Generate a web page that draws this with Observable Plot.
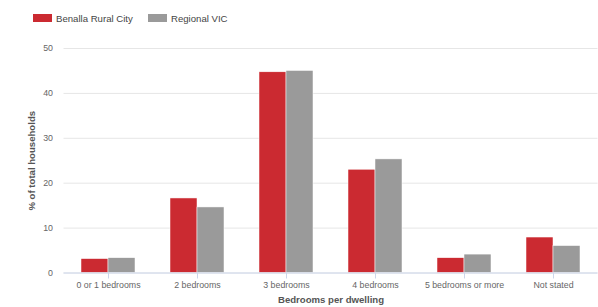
<!DOCTYPE html>
<html><head><meta charset="utf-8">
<script src="https://cdn.jsdelivr.net/npm/d3@7"></script>
<script src="https://cdn.jsdelivr.net/npm/@observablehq/plot@0.6"></script>
<style>
body{margin:0;background:#fff;font-family:"Liberation Sans",Arial,sans-serif;}
#legend{height:30px;position:relative;font-size:9.6px;color:#444;}
.item{position:absolute;top:13px;display:flex;align-items:center;height:10px;}
.sw{width:19px;height:8px;margin-right:4px;}
</style></head>
<body>
<div id="legend"></div>
<div id="chart"></div>
<script>
const categories = ["0 or 1 bedrooms","2 bedrooms","3 bedrooms","4 bedrooms","5 bedrooms or more","Not stated"];
const seriesNames = ["Benalla Rural City","Regional VIC"];
const benalla = [3.1, 16.6, 44.7, 23.0, 3.3, 7.9];
const regional = [3.3, 14.6, 45.0, 25.3, 4.1, 6.0];
const yTicks = [0,10,20,30,40,50];
const colors = ["#cb2a31","#9a9a9a"];

const data = [];
categories.forEach((c,i)=>{
  data.push({category:c, series:seriesNames[0], value:benalla[i]});
  data.push({category:c, series:seriesNames[1], value:regional[i]});
});

const lg = document.getElementById("legend");
const lx = [33, 148];
seriesNames.forEach((s,i)=>{
  const d = document.createElement("div");
  d.className="item"; d.style.left = lx[i]+"px";
  d.innerHTML = `<div class="sw" style="background:${colors[i]}"></div><span>${s}</span>`;
  lg.appendChild(d);
});

const W = 598, H = 277;
const half = 27;
const chart = Plot.plot({
  width: W, height: H,
  marginTop: 18, marginBottom: 34.5, marginLeft: 63.5, marginRight: 0.5,
  style: {fontFamily: '"Liberation Sans", Arial, sans-serif', fontSize: "8.8px", color: "#666", background: "#fff"},
  x: {type: "band", domain: categories, paddingInner: 0.393, paddingOuter: 0.1965, label: null},
  y: {domain: [0, 50], label: null},
  color: {domain: seriesNames, range: colors},
  marks: [
    Plot.gridY(yTicks, {stroke: "#e6e6e6", strokeOpacity: 1}),
    Plot.barY(data.filter(d=>d.series===seriesNames[0]), {x: "category", y: "value", fill: "series", insetRight: half, stroke: "#fff", strokeWidth: 0.5}),
    Plot.barY(data.filter(d=>d.series===seriesNames[1]), {x: "category", y: "value", fill: "series", insetLeft: half, stroke: "#fff", strokeWidth: 0.5}),
    Plot.ruleY([0], {stroke: "#ccd6eb"}),
    Plot.axisX({tickSize: 6, tickPadding: 3, stroke: "#ccd6eb", fill: "#666", label: null}),
    Plot.axisY(yTicks, {tickSize: 0, tickPadding: 11, fill: "#666", label: null}),
    Plot.text(["Bedrooms per dwelling"], {frameAnchor: "bottom", dy: 30, fontWeight: "bold", fontSize: 9.6, fill: "#555"}),
    Plot.text(["% of total households"], {frameAnchor: "left", dx: -32, rotate: -90, textAnchor: "middle", fontWeight: "bold", fontSize: 9.6, fill: "#555"})
  ]
});
document.getElementById("chart").appendChild(chart);
</script>
</body></html>
